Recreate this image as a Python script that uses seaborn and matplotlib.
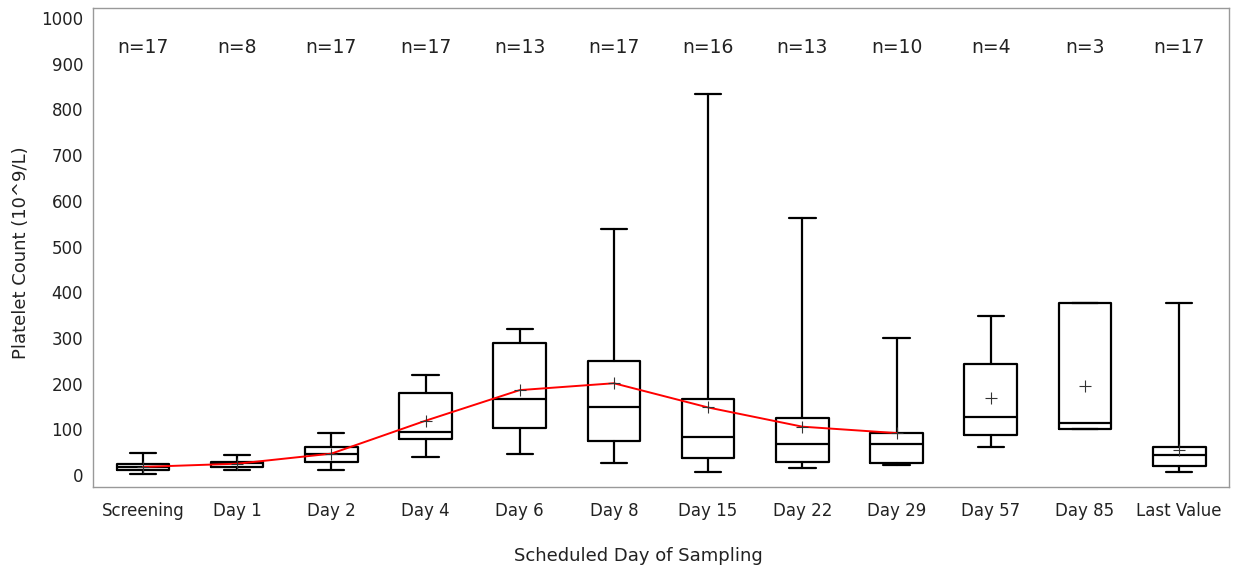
import numpy as np
import matplotlib
matplotlib.use("Agg")
import matplotlib.pyplot as plt
import seaborn as sns

# Platelet count summary by scheduled sampling day
days = ["Screening", "Day 1", "Day 2", "Day 4", "Day 6", "Day 8",
        "Day 15", "Day 22", "Day 29", "Day 57", "Day 85", "Last Value"]
n_obs = [17, 8, 17, 17, 13, 17, 16, 13, 10, 4, 3, 17]
whisker_low = [2, 11, 11, 39, 46, 27, 6, 16, 22, 61, 102, 6]
q1 = [11, 18, 28, 80, 104, 75, 38, 28, 26, 88, 102, 20]
median = [17, 26, 46, 95, 166, 149, 84, 69, 69, 128, 115, 44]
q3 = [24, 29, 62, 179, 288, 249, 166, 124, 93, 244, 376, 62]
whisker_high = [49, 45, 93, 219, 319, 538, 834, 563, 300, 349, 376, 376]
mean = [18, 25, 47, 119, 186, 201, 148, 106, 92, 169, 195, 55]
# the mean profile is traced over the scheduled visits up to Day 29
n_trend = 9

sns.set_theme(style="white")
plt.rcParams["font.family"] = ["DejaVu Sans"]

fig = plt.figure(figsize=(12.33, 5.71), dpi=100)
ax = fig.add_axes([0.0754, 0.1471, 0.9214, 0.8389])

stats = [
    dict(label=d, whislo=lo, q1=a, med=m, q3=b, whishi=hi, fliers=[])
    for d, lo, a, m, b, hi in zip(days, whisker_low, q1, median, q3, whisker_high)
]
pos = np.arange(len(days))
line_kw = dict(color="black", linewidth=1.6)
ax.bxp(stats, positions=pos, widths=0.56, showfliers=False,
       boxprops=line_kw, whiskerprops=line_kw, capprops=line_kw,
       medianprops=line_kw, capwidths=0.28, patch_artist=False)

# mean trend line
sns.lineplot(x=pos[:n_trend], y=mean[:n_trend], color="red", linewidth=1.4,
             ax=ax, zorder=4)
# mean markers
ax.plot(pos, mean, linestyle="none", marker="+", markersize=9,
        markeredgewidth=0.8, color="#333333", zorder=5)

# sample size annotations
for x, n in zip(pos, n_obs):
    ax.text(x, 936, f"n={n}", ha="center", va="center", fontsize=13.5,
            color="#222222")

ax.set_xlim(-0.53, len(days) - 0.47)
ax.set_ylim(-26, 1022)
ax.set_yticks(np.arange(0, 1001, 100))
ax.set_xticks(pos)
ax.set_xticklabels(days)
ax.tick_params(axis="both", direction="out", length=4, width=1,
               color="#999999", labelsize=12, labelcolor="#222222", pad=3)
ax.tick_params(axis="x", pad=7)
for s in ax.spines.values():
    s.set_color("#999999")
    s.set_linewidth(1.0)
ax.grid(False)

ax.set_xlabel("Scheduled Day of Sampling", fontsize=13, color="#222222")
ax.xaxis.set_label_coords(0.48, -0.125)
ax.set_ylabel("Platelet Count (10^9/L)", fontsize=13, color="#222222")
ax.yaxis.set_label_coords(-0.055, 0.49)

fig.savefig("out.png", dpi=100)
